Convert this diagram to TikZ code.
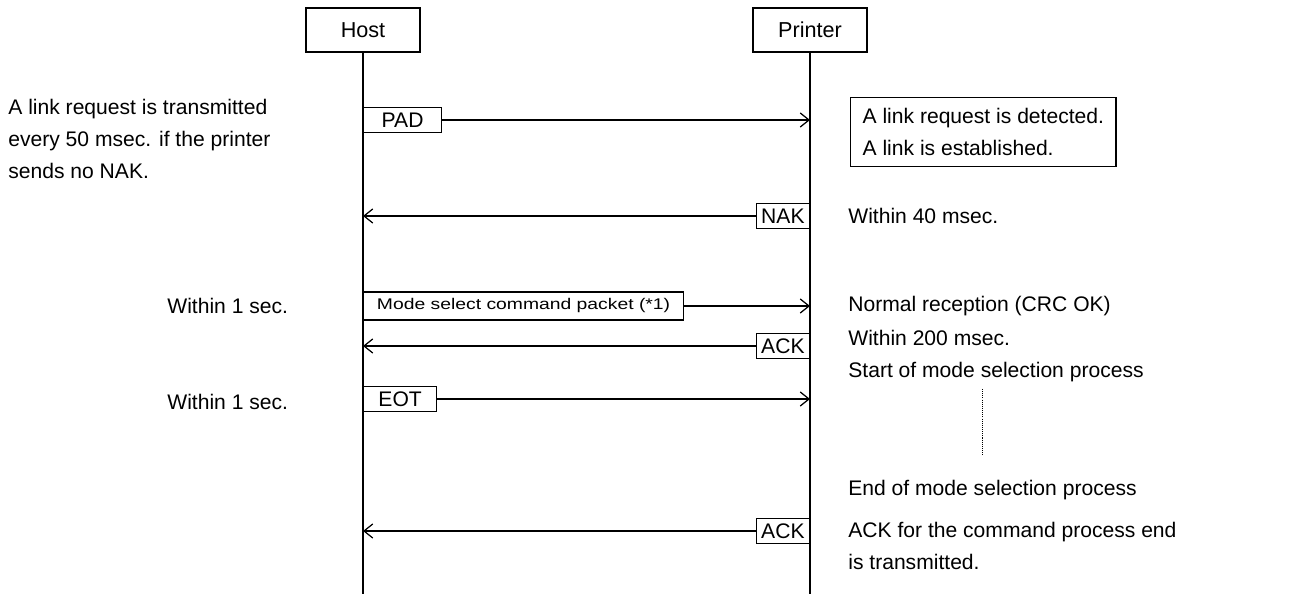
\documentclass[tikz,border=0pt]{standalone}
\usepackage{fontspec}
\setmainfont{Liberation Sans}
\usepackage{graphicx}
\usetikzlibrary{arrows.meta}

\begin{document}
\begin{tikzpicture}[x=0.02cm,y=-0.02cm]
        \tikzset{actor/.style = {shape=rectangle,draw,line width=0.7pt,minimum width=2.28cm,minimum height=0.88cm,font=\fontsize{12.3}{14}\selectfont}}
        \tikzset{packet/.style = {shape=rectangle,draw,line width=0.7pt,minimum height=0.5cm,inner sep=0pt,font=\fontsize{12}{14}\selectfont}}
        \tikzset{note/.style = {align=left,inner sep=0pt,anchor=west,font=\fontsize{12}{18}\selectfont}}
        \tikzset{edge/.style = {line width=0.75pt}}
        \tikzset{msg/.style = {line width=0.7pt,-{Straight Barb[length=5pt,width=8pt]}}}

        \useasboundingbox (0,0) rectangle (1306,594);

        \node[actor] (H) at (363,30) {Host};
        \node[actor] (P) at (810,30) {Printer};
        \coordinate (Hend) at (363,594);
        \coordinate (Pend) at (810,594);
        \draw[edge] (H) to (Hend);
        \draw[edge] (P) to (Pend);

        \node[packet,anchor=west,minimum width=1.56cm] (PAD) at (363,120) {PAD};
        \node[packet,anchor=east,minimum width=1.06cm] (NAK) at (810,216) {NAK};
        \node[packet,anchor=west,minimum width=6.4cm,minimum height=0.56cm,font=\fontsize{11}{13}\selectfont] (MODE) at (363,306) {\scalebox{1}[0.8]{Mode select command packet (*1)}};
        \node[packet,anchor=east,minimum width=1.06cm] (ACK1) at (810,346) {ACK};
        \node[packet,anchor=west,minimum width=1.46cm] (EOT) at (363,399) {EOT};
        \node[packet,anchor=east,minimum width=1.06cm] (ACK2) at (810,531) {ACK};

        \coordinate (PADend) at (810,120);
        \coordinate (NAKend) at (363,216);
        \coordinate (MODEend) at (810,306);
        \coordinate (ACK1end) at (363,346);
        \coordinate (EOTend) at (810,399);
        \coordinate (ACK2end) at (363,531);

        \draw[msg] (PAD) to (PADend);
        \draw[msg] (NAK) to (NAKend);
        \draw[msg] (MODE) to (MODEend);
        \draw[msg] (ACK1) to (ACK1end);
        \draw[msg] (EOT) to (EOTend);
        \draw[msg] (ACK2) to (ACK2end);

        % host side notes
        \node[note] (L1) at (8,139) {A link request is transmitted\\every 50 msec. if the printer\\sends no NAK.};
        \node[note] (L2) at (167,306) {Within 1 sec.};
        \node[note] (L3) at (167,402) {Within 1 sec.};

        % printer side notes
        \node[draw,line width=0.7pt,align=left,anchor=west,inner xsep=0.24cm,minimum height=1.38cm,font=\fontsize{12}{18}\selectfont] (LINK) at (850,132) {A link request is detected.\\A link is established.};
        \node[note] (R1) at (848,216) {Within 40 msec.};
        \node[note] (R2) at (848,306) {Normal reception (CRC OK)};
        \node[note] (R3) at (848,338) {Within 200 msec.};
        \node[note] (R4) at (848,372) {Start of mode selection process};
        \node[note] (R5) at (848,490) {End of mode selection process};
        \node[note] (R6) at (848,546) {ACK for the command process end\\is transmitted.};

        \coordinate (D1) at (982,389);
        \coordinate (D2) at (982,456);
        \draw[line width=0.4pt,dash pattern=on 0.6pt off 0.6pt] (D1) to (D2);
\end{tikzpicture}
\end{document}
